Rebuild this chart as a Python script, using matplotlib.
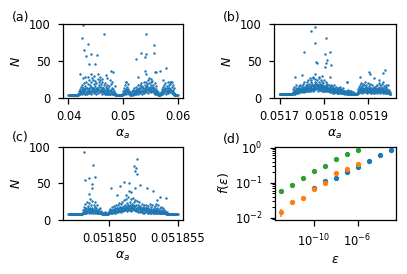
import numpy as np
import matplotlib
matplotlib.use('Agg')
import matplotlib.pyplot as plt
from matplotlib.ticker import NullLocator, ScalarFormatter, FixedLocator

# ---------------- data ----------------
# (a) sweep of alpha_a in [0.04, 0.06]; N_a on the coarse grid, N_a_mid halfway between
a_range = (0.04, 0.06)
N_a = ([4]*18 +
       [6, 9, 5, 12, 7, 15, 10, 18, 8, 13, 20, 11, 6, 16, 22, 9, 14, 19, 7, 24,
        12, 17, 10, 21, 15, 8, 25, 13, 19, 11, 23, 16, 9, 20, 14, 26, 12, 18, 22, 10,
        24, 15, 19, 8, 21, 13, 17, 11, 20, 7, 15, 12, 18, 6, 13, 9, 16, 5, 11, 19,
        7, 14, 22, 8, 12, 5, 16, 7, 5] +
       [4]*12 +
       [5, 9, 14, 6, 18, 11, 21, 8, 15, 12, 19, 7, 10, 5, 8, 4, 6, 9, 5, 11,
        7, 13, 6, 10, 15, 8, 12, 17, 9, 14, 11, 18, 8, 15, 20, 10, 16, 13, 21, 9,
        18, 14, 22, 11, 19, 16, 24, 12, 20, 15, 9, 21, 17, 13, 23, 10, 18, 14, 20, 8,
        12, 16, 7, 10, 5, 8, 4, 6, 4, 5, 8, 12, 6, 15, 10, 18, 9, 14, 20, 11,
        16, 8, 21, 13, 17, 10, 19, 12, 22, 9, 15, 11, 18, 7, 13, 6] +
       [4]*5)
N_a_mid = ([4]*17 + [5] +
           [7, 5, 10, 6, 8, 11, 6, 9, 13, 7,
            10, 5, 12, 8, 14, 6, 11, 9, 7, 13,
            10, 8, 15, 6, 12, 9, 11, 7, 14, 10,
            8, 12, 6, 13, 9, 11, 7, 15, 10, 8,
            12, 9, 6, 11, 8, 13, 7, 10, 6, 9,
            5, 12, 8, 6, 10, 7, 5, 9, 6, 11,
            5, 8, 6, 7, 5, 9, 5, 4] +
           [4] + [4]*11 + [5] +
           [6, 8, 5, 10, 7, 12, 6, 9, 11, 7,
            8, 6, 5, 4, 5, 4, 5, 6, 4, 7,
            9, 5, 8, 6, 11, 7, 9, 6, 12, 8,
            10, 7, 13, 9, 6, 11, 8, 14, 10, 7,
            12, 9, 15, 8, 11, 13, 7, 10, 14, 9,
            12, 8, 11, 15, 9, 13, 7, 11, 10, 6,
            9, 6, 5, 7, 4, 5, 4, 4, 5, 6,
            7, 9, 5, 10, 8, 12, 7, 11, 9, 6,
            13, 8, 11, 7, 14, 9, 12, 8, 10, 7,
            9, 6, 8, 5, 4] +
           [4]*5)
a_out_x = [0.0421, 0.0424, 0.0426, 0.0429, 0.0432, 0.0435, 0.0436, 0.0438, 0.0441, 0.0442,
           0.0449, 0.0453, 0.0454, 0.0465, 0.0468, 0.0476, 0.0478, 0.0481, 0.0427, 0.0431,
           0.0444, 0.0447, 0.0458, 0.0462, 0.0471, 0.0524, 0.0528, 0.0533, 0.0541, 0.0542,
           0.0543, 0.0541, 0.0543, 0.0556, 0.0556, 0.0558, 0.0561, 0.0567, 0.0579, 0.0586,
           0.0590, 0.0505, 0.0548, 0.0552, 0.0574]
a_out_N = [33, 81, 99, 65, 57, 73, 29, 46, 59, 32,
           46, 58, 33, 86, 31, 24, 37, 35, 27, 28,
           27, 30, 28, 26, 27, 53, 28, 61, 56, 86,
           59, 37, 33, 71, 61, 35, 35, 37, 40, 22,
           22, 22, 27, 26, 24]

# (b) sweep of alpha_a in [0.0517, 0.05195]
b_range = (0.0517, 0.05195)
N_b = ([6]*30 +
       [8, 12, 7, 15, 10, 6, 13, 9, 17, 11, 7, 14, 10, 16, 8, 12, 18, 9, 14, 11,
        16, 8, 13, 19, 10, 15, 21, 12, 9, 17, 13, 22, 10, 18, 14, 24, 11, 19, 15, 9,
        21, 16, 25, 12, 19, 14, 27, 17, 11, 22, 15, 26, 13, 20, 17, 24, 12, 18, 27, 15,
        21, 11, 19, 25, 14, 17, 22, 10, 16, 20, 13, 24, 15, 9, 18, 21, 12, 16, 19, 11,
        14, 18, 9, 15, 12, 17, 8, 13, 16, 10, 14, 7, 12, 17, 9, 13, 11, 15, 8, 12,
        10, 14, 7, 11, 13, 8, 10, 15, 7, 12, 9, 11, 7, 13, 8, 10, 6, 9, 7, 8,
        6, 9, 22, 7, 11, 6, 8, 6, 10, 7, 6, 9, 6, 7, 6, 8, 6, 6, 7, 6] +
       [6]*6 +
       [8, 12, 7, 15, 10, 18, 9, 13, 20, 11, 16, 8, 14, 19, 10, 17, 12, 21, 9, 15,
        18, 11, 14, 20, 8, 16, 12, 19, 10, 14, 7, 13, 17, 9, 12, 8, 15, 11, 7, 13,
        10, 16, 8, 12, 18, 9, 14, 11, 20, 13, 8, 17, 10, 15, 12, 19, 9, 14, 21, 11,
        16, 8, 13, 18, 10, 15, 7, 12, 17, 9, 11, 7, 8] +
       [6, 6])
N_b_mid = ([6]*29 + [7] +
           [7, 9, 6, 10, 8, 11, 7, 9, 12, 8, 10, 7, 11, 9, 13, 8, 10, 12, 9, 11,
            9, 12, 10, 14, 8, 11, 13, 9, 15, 10, 12, 16, 11, 9, 14, 12, 17, 10, 13, 15,
            11, 14, 18, 12, 10, 16, 13, 15, 11, 17, 14, 12, 19, 13, 16, 10, 15, 18, 12, 14,
            16, 11, 13, 17, 10, 15, 12, 14, 9, 13, 16, 11, 14, 10, 12, 15, 9, 13, 11, 10,
            12, 9, 11, 13, 8, 10, 12, 9, 11, 8, 10, 13, 7, 9, 11, 8, 10, 9, 7, 11,
            8, 10, 7, 9, 8, 11, 7, 9, 8, 10, 7, 8, 9, 7, 8, 7, 8, 7, 7,
            7, 8, 6, 9, 7, 6, 8, 6, 7, 6, 7, 6, 6, 8, 6, 7, 6, 6, 7, 6] +
           [6] + [6]*5 + [7] +
           [9, 7, 11, 8, 12, 10, 8, 13, 9, 11,
            7, 10, 12, 8, 11, 9, 13, 10, 8, 12,
            9, 11, 7, 10, 13, 8, 11, 9, 12, 7,
            10, 8, 11, 9, 13, 10, 7, 12, 9, 11,
            8, 10, 12, 9, 7, 11, 10, 8, 13, 9,
            11, 7, 10, 12, 8, 9, 11, 7, 10, 8,
            9, 7, 10, 8, 11, 7, 9, 8, 7, 8, 7, 7] +
           [6, 6])
b_out_x = [0.051770, 0.051781, 0.051781, 0.051804, 0.051755, 0.051813, 0.051802, 0.051806,
           0.051782, 0.051785, 0.051817, 0.051804, 0.051803, 0.051734, 0.051751, 0.051768,
           0.051781, 0.051790, 0.051813, 0.051852, 0.051881, 0.051902, 0.051905, 0.051912,
           0.051925, 0.051938, 0.051934, 0.051795, 0.051776]
b_out_N = [90, 96, 74, 81, 62, 62, 59, 52,
           49, 47, 44, 47, 42, 28, 31, 27,
           32, 28, 28, 22, 28, 35, 33, 27,
           25, 38, 34, 30, 29]

# (c) sweep of alpha_a in [0.051847, 0.051855]
c_range = (0.051847, 0.051855)
N_c = ([8]*26 +
       [10, 14, 9, 18, 12, 22, 10, 16, 25, 13, 19, 11, 23, 15, 28, 12, 20, 17, 26, 11,
        21, 14, 18, 24, 12, 16, 10, 20, 13, 9, 15, 11, 17, 9, 12] +
       [8, 10, 8, 9, 8, 8, 11, 8, 9, 8, 8, 10, 8, 12, 9] +
       [15, 10, 13, 18, 9, 14, 11, 19, 12, 16, 10, 21, 13, 17, 11, 20, 15, 23, 12, 18,
        14, 22, 16, 25, 13, 19, 27, 15, 21, 17, 29, 14, 23, 19, 31, 16, 25, 20, 28, 14,
        22, 18, 30, 15, 24, 19, 27, 13, 21, 17, 26, 12, 20, 16, 24, 11, 19, 15, 22, 13,
        18, 10, 21, 14, 17, 11, 20, 13, 16, 9, 19, 12, 15, 22, 10, 14, 18, 11, 21, 13,
        16, 9, 19, 12, 15, 22, 10, 17, 13, 20, 11, 16, 9, 18, 12, 14, 10, 17, 11, 13,
        9, 12, 10, 9, 11] +
       [8]*20)
N_c_mid = ([8]*25 + [9] +
           [11, 9, 13, 10, 15, 12, 9, 14, 11, 16,
            10, 13, 12, 17, 9, 14, 11, 15, 13, 10,
            12, 16, 9, 11, 14, 10, 12, 9, 13, 10,
            11, 9, 10, 9] +
           [8, 9, 8, 8, 10, 8, 9, 8, 8, 9, 8, 10, 8, 9, 10] +
           [11, 13, 10, 12, 14, 10, 13, 11, 15, 12,
            10, 14, 12, 16, 11, 13, 15, 12, 17, 14,
            11, 16, 13, 18, 12, 15, 17, 13, 19, 14,
            16, 12, 18, 15, 20, 13, 17, 14, 19, 16,
            12, 18, 15, 20, 14, 17, 13, 19, 15, 12,
            17, 14, 16, 11, 18, 13, 15, 12, 17, 14,
            11, 16, 13, 15, 10, 14, 12, 16, 11, 13,
            15, 10, 14, 12, 11, 13, 9, 15, 12, 14,
            10, 13, 11, 12, 9, 14, 10, 12, 11, 9,
            13, 10, 11, 9, 12, 10, 9, 11, 10, 9,
            10, 9, 9, 8, 9] +
           [8]*20)
c_out_x = [0.05184817, 0.05184883, 0.05184820, 0.05184849, 0.05184893, 0.05184876, 0.05184874,
           0.05184854, 0.05185012, 0.05185107, 0.05185146, 0.05185080, 0.05185054, 0.05185200,
           0.05185180, 0.05185195, 0.05185188, 0.05185200, 0.05185224, 0.05185190, 0.05185273,
           0.05185322, 0.05185371, 0.05185412, 0.05185346, 0.05185146, 0.05185156, 0.05185120]
c_out_N = [92, 75, 55, 57, 59, 49, 44,
           36, 44, 52, 51, 46, 34, 83,
           74, 71, 66, 62, 47, 44, 43,
           40, 31, 30, 27, 40, 38, 34]

# (d) f(epsilon)
eps_blue = [1e-10, 1e-9, 1e-8, 1e-7, 1e-6, 1e-5, 1e-4, 1e-3]
f_blue = [0.073, 0.109, 0.139, 0.203, 0.29, 0.41, 0.60, 0.836]
eps_orange = [1e-13, 1e-12, 1e-11, 1e-10, 1e-9, 1e-8, 1e-7, 1e-6]
f_orange = [0.0144, 0.0278, 0.037, 0.067, 0.100, 0.185, 0.24, 0.34]
err_orange = [0.0036, 0.0025, 0.002, 0.003, 0.004, 0.006, 0.008, 0.01]
eps_green = [1e-13, 1e-12, 1e-11, 1e-10, 1e-9, 1e-8, 1e-7, 1e-6]
f_green = [0.060, 0.085, 0.136, 0.22, 0.31, 0.48, 0.68, 0.87]

# ---------------- style ----------------
plt.rcParams.update({
    'font.size': 12.5,
    'axes.labelsize': 12.5,
    'xtick.labelsize': 11.5,
    'ytick.labelsize': 11.5,
    'xtick.major.size': 5.5,
    'ytick.major.size': 5.5,
    'xtick.minor.size': 3.5,
    'ytick.minor.size': 3.5,
    'xtick.major.pad': 7.0,
    'ytick.major.pad': 7.0,
    'xtick.major.width': 1.25,
    'ytick.major.width': 1.25,
    'xtick.minor.width': 1.0,
    'ytick.minor.width': 1.0,
    'axes.linewidth': 1.25,
})

# ---------------- figure ----------------
W, H = 407, 274
fig = plt.figure(figsize=(W/72, H/72), dpi=72)

def box(l, t, r, b):
    return [l/W, 1 - b/H, (r - l)/W, (b - t)/H]

axa = fig.add_axes(box(63, 24, 183, 98))
axb = fig.add_axes(box(274, 24, 396, 98))
axc = fig.add_axes(box(63, 146.5, 183, 220))
axd = fig.add_axes(box(275, 146.5, 396, 220))

blue = '#1f77b4'
for ax, rng, N, Nm, ox, oN, ticks in [
        (axa, a_range, N_a, N_a_mid, a_out_x, a_out_N, [0.04, 0.05, 0.06]),
        (axb, b_range, N_b, N_b_mid, b_out_x, b_out_N, [0.0517, 0.0518, 0.0519]),
        (axc, c_range, N_c, N_c_mid, c_out_x, c_out_N, [0.05185, 0.051855])]:
    xs = np.linspace(rng[0], rng[1], len(N))
    xm = np.linspace(rng[0], rng[1], len(Nm) + 2)[1:-1]
    ax.scatter(xs, N, s=6, color=blue, linewidths=0)
    ax.scatter(xm, Nm, s=6, color=blue, linewidths=0)
    ax.scatter(ox, oN, s=6, color=blue, linewidths=0)
    ax.set_ylim(0, 100)
    ax.set_yticks([0, 50, 100])
    ax.set_xticks(ticks)
    ax.xaxis.set_major_formatter(ScalarFormatter(useOffset=False))
    ax.set_xlabel(r'$\alpha_a$')
    ax.set_ylabel(r'$N$', labelpad=6)

axd.errorbar(eps_blue, f_blue, fmt='o', ms=4.3, color='#1f77b4')
axd.errorbar(eps_orange, f_orange, yerr=err_orange, fmt='o', ms=4.3, color='#ff7f0e')
axd.errorbar(eps_green, f_green, fmt='o', ms=4.3, color='#2ca02c')
axd.set_xscale('log')
axd.set_yscale('log')
axd.xaxis.set_major_locator(FixedLocator([1e-10, 1e-6]))
axd.xaxis.set_minor_locator(NullLocator())
axd.set_xlim(10**-13.5, 10**-2.5)
axd.set_xlabel(r'$\varepsilon$')
axd.set_ylabel(r'$f(\varepsilon)$')

fig.text(12/W, 1 - 17/H, '(a)', ha='left', va='center')
fig.text(223/W, 1 - 17/H, '(b)', ha='left', va='center')
fig.text(12/W, 1 - 138/H, '(c)', ha='left', va='center')
fig.text(223/W, 1 - 140/H, '(d)', ha='left', va='center')

fig.savefig('out.png', dpi=72)
